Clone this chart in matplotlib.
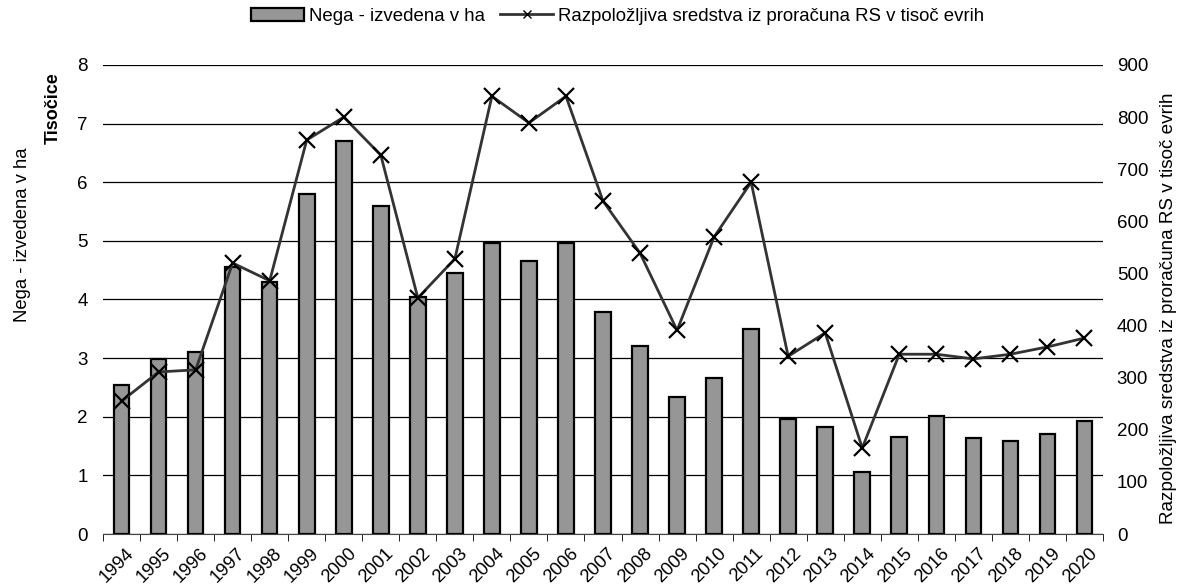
import numpy as np
import matplotlib.pyplot as plt
import matplotlib.transforms as mtransforms
from matplotlib.lines import Line2D
from matplotlib.patches import Patch

plt.rcParams['font.family'] = ['Liberation Sans', 'DejaVu Sans']

# Data
years = list(range(1994, 2021))
nega_ha = [2.55, 2.99, 3.10, 4.56, 4.30, 5.80, 6.70, 5.60, 4.04, 4.45, 4.97, 4.66, 4.97,
           3.79, 3.21, 2.34, 2.66, 3.50, 1.96, 1.83, 1.06, 1.66, 2.01, 1.64, 1.59, 1.71, 1.93]
sredstva = [255, 311, 315, 520, 486, 756, 800, 727, 453, 528, 840, 789, 840,
            639, 539, 391, 570, 675, 341, 386, 165, 345, 345, 336, 345, 359, 376]

fig = plt.figure(figsize=(11.79, 5.88), dpi=100)
ax = fig.add_axes([0.0874, 0.0918, 0.8481, 0.7977])
x = np.arange(len(years))

ax.bar(x, nega_ha, width=0.42, color='#969696', edgecolor='black', linewidth=1.6, zorder=2)
ax.set_ylim(0, 8)
ax.set_xlim(-0.5, len(years) - 0.5)
ax.set_yticks(range(0, 9))
ax.yaxis.grid(True, color='black', linewidth=0.9, zorder=0)
ax.set_axisbelow(True)
ax.tick_params(axis='y', length=0, labelsize=13.5, pad=11)
ax.set_xticks(x)
ax.set_xticklabels(years, rotation=45, ha='right', rotation_mode='anchor', fontsize=13.2)
ax.set_xticks(np.arange(-0.5, len(years)), minor=True)
ax.tick_params(axis='x', which='major', length=0, pad=8)
ax.tick_params(axis='x', which='minor', length=5, direction='out')
shift = mtransforms.ScaledTranslation(4 / 100, 0, fig.dpi_scale_trans)
for lbl in ax.get_xticklabels():
    lbl.set_transform(lbl.get_transform() + shift)
for s in ['top', 'right', 'left']:
    ax.spines[s].set_visible(False)
ax.spines['bottom'].set_color('#444444')

fig.text(0.019, 0.60, 'Nega - izvedena v ha', rotation=90, fontsize=13.3,
         ha='center', va='center')
fig.text(0.045, 0.877, 'Tisočice', rotation=90, fontsize=13, fontweight='bold',
         ha='center', va='top')

ax2 = ax.twinx()
ax2.plot(x, sredstva, color='#333333', linewidth=2, marker='x', markersize=11,
         markeredgecolor='black', markeredgewidth=1.6, zorder=3)
ax2.set_ylim(0, 900)
ax2.set_yticks(range(0, 901, 100))
ax2.tick_params(axis='y', length=0, labelsize=13.5, pad=10)
for s in ax2.spines.values():
    s.set_visible(False)
fig.text(0.9907, 0.4753, 'Razpoložljiva sredstva iz proračuna RS v tisoč evrih',
         rotation=90, fontsize=13.6, ha='center', va='center')

handles = [Patch(facecolor='#969696', edgecolor='black', linewidth=1.6),
           Line2D([], [], color='#333333', linewidth=2, marker='x', markersize=6,
                  markeredgecolor='black')]
labels = ['Nega - izvedena v ha', 'Razpoložljiva sredstva iz proračuna RS v tisoč evrih']
fig.legend(handles, labels, loc='center', bbox_to_anchor=(0.524, 0.972), ncol=2,
           frameon=False, fontsize=13.4, handlelength=2.85, handletextpad=0.27,
           columnspacing=0.8, borderpad=0.2)

fig.savefig('out.png', dpi=100)
